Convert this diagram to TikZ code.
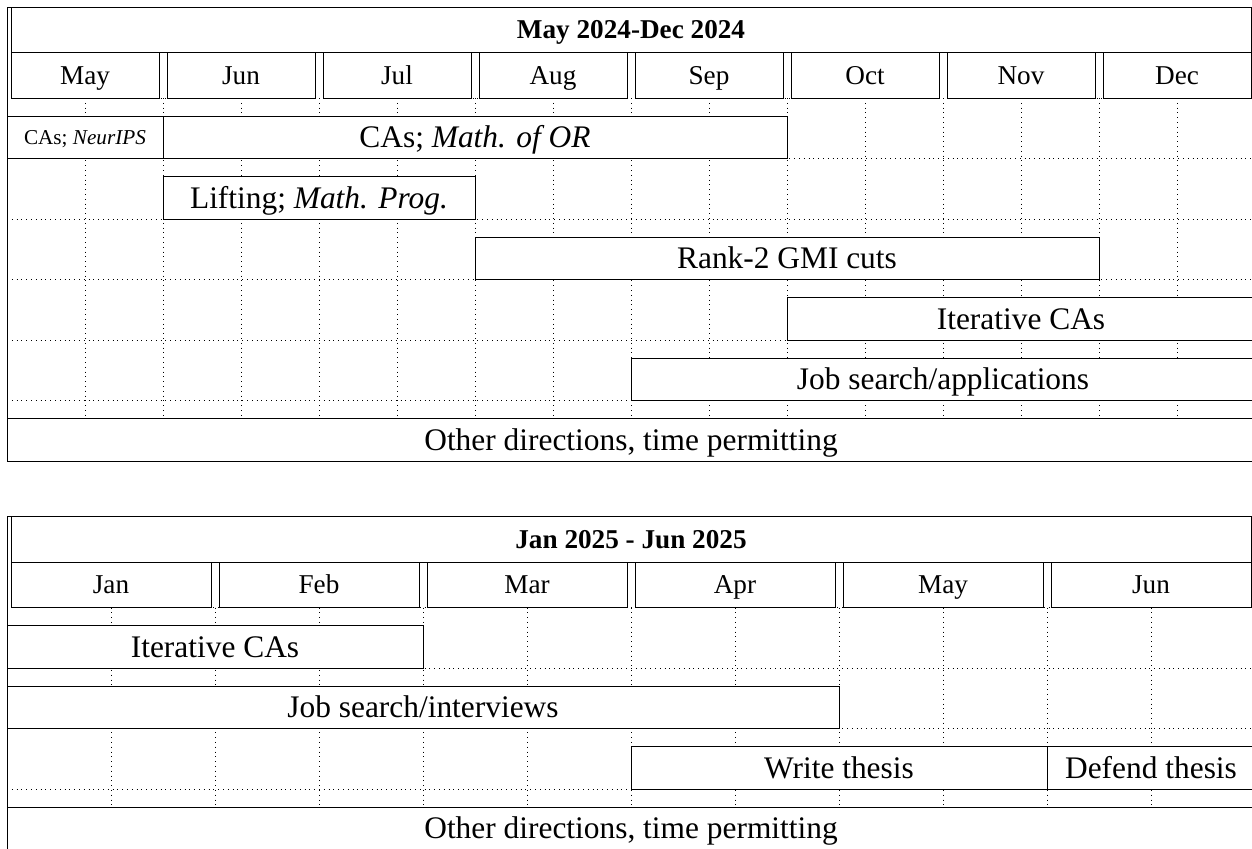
\documentclass[tikz,border=0pt]{standalone}
\usepackage{fontspec}
\setmainfont{Liberation Serif}
\usepackage{tikz}

\newcommand{\headsize}{\fontsize{13.6}{16}\selectfont}
\newcommand{\barsize}{\fontsize{15.7}{18}\selectfont}
\newcommand{\smallbarsize}{\fontsize{10.6}{12}\selectfont}

\begin{document}
\begin{tikzpicture}[x=0.5pt, y=-0.5pt, line width=0.5pt,
  grid line/.style={dotted, line width=0.4pt},
  head box/.style={draw, fill=white},
  task bar/.style={draw, fill=white},
  head text/.style={font=\headsize, text height=9.5pt, text depth=0.7pt},
  bar text/.style={font=\barsize, text height=11pt, text depth=0.8pt},
  small text/.style={font=\smallbarsize, text height=7.4pt, text depth=0.5pt}]
  \useasboundingbox (0,0) rectangle (1252,848);

  % May 2024 -- Dec 2024
  \foreach \i in {1,...,15}
    \draw[grid line] (7+78*\i,98) -- (7+78*\i,461);
  \foreach \r in {0,...,5}
    \draw[grid line] (7,98+60.5*\r) -- (1255,98+60.5*\r);
  \draw (7,7) rectangle (1255,461);
  \draw[head box] (11,7) rectangle (1251,52.5)
    node[midway, head text, font=\headsize\bfseries] (title24) {May 2024-Dec 2024};
  \foreach \m [count=\i from 0] in {May,Jun,Jul,Aug,Sep,Oct,Nov,Dec}
    \draw[head box] (11+156*\i,52.5) rectangle (159+156*\i,98)
      node[midway, head text] (m24-\i) {\m};

  \draw[task bar] (7,116.15) rectangle (163,158.5)
    node[midway, small text] (neurips) {CAs; \textit{NeurIPS}};
  \draw[task bar] (163,116.15) rectangle (787,158.5)
    node[midway, bar text] (mor) {CAs; \textit{Math. of OR}};
  \draw[task bar] (163,176.65) rectangle (475,219)
    node[midway, bar text] (lifting) {Lifting; \textit{Math. Prog.}};
  \draw[task bar] (475,237.15) rectangle (1099,279.5)
    node[midway, bar text] (gmi) {Rank-2 GMI cuts};
  \draw[task bar] (787,297.65) rectangle (1255,340)
    node[midway, bar text] (iter24) {Iterative CAs};
  \draw[task bar] (631,358.15) rectangle (1255,400.5)
    node[midway, bar text] (jobs24) {Job search/applications};
  \draw[task bar] (7,418.65) rectangle (1255,461)
    node[midway, bar text] (other24) {Other directions, time permitting};

  % Jan 2025 -- Jun 2025
  \foreach \i in {1,...,11}
    \draw[grid line] (7+104*\i,607.5) -- (7+104*\i,849.5);
  \foreach \r in {0,...,3}
    \draw[grid line] (7,607.5+60.5*\r) -- (1255,607.5+60.5*\r);
  \draw (7,516.5) rectangle (1255,849.5);
  \draw[head box] (11,516.5) rectangle (1251,562)
    node[midway, head text, font=\headsize\bfseries] (title25) {Jan 2025 - Jun 2025};
  \foreach \m [count=\i from 0] in {Jan,Feb,Mar,Apr,May,Jun}
    \draw[head box] (11+208*\i,562) rectangle (211+208*\i,607.5)
      node[midway, head text] (m25-\i) {\m};

  \draw[task bar] (7,625.65) rectangle (423,668)
    node[midway, bar text] (iter25) {Iterative CAs};
  \draw[task bar] (7,686.15) rectangle (839,728.5)
    node[midway, bar text] (jobs25) {Job search/interviews};
  \draw[task bar] (631,746.65) rectangle (1047,789)
    node[midway, bar text] (write) {Write thesis};
  \draw[task bar] (1047,746.65) rectangle (1255,789)
    node[midway, bar text] (defend) {Defend thesis};
  \draw[task bar] (7,807.15) rectangle (1255,849.5)
    node[midway, bar text] (other25) {Other directions, time permitting};
\end{tikzpicture}
\end{document}
